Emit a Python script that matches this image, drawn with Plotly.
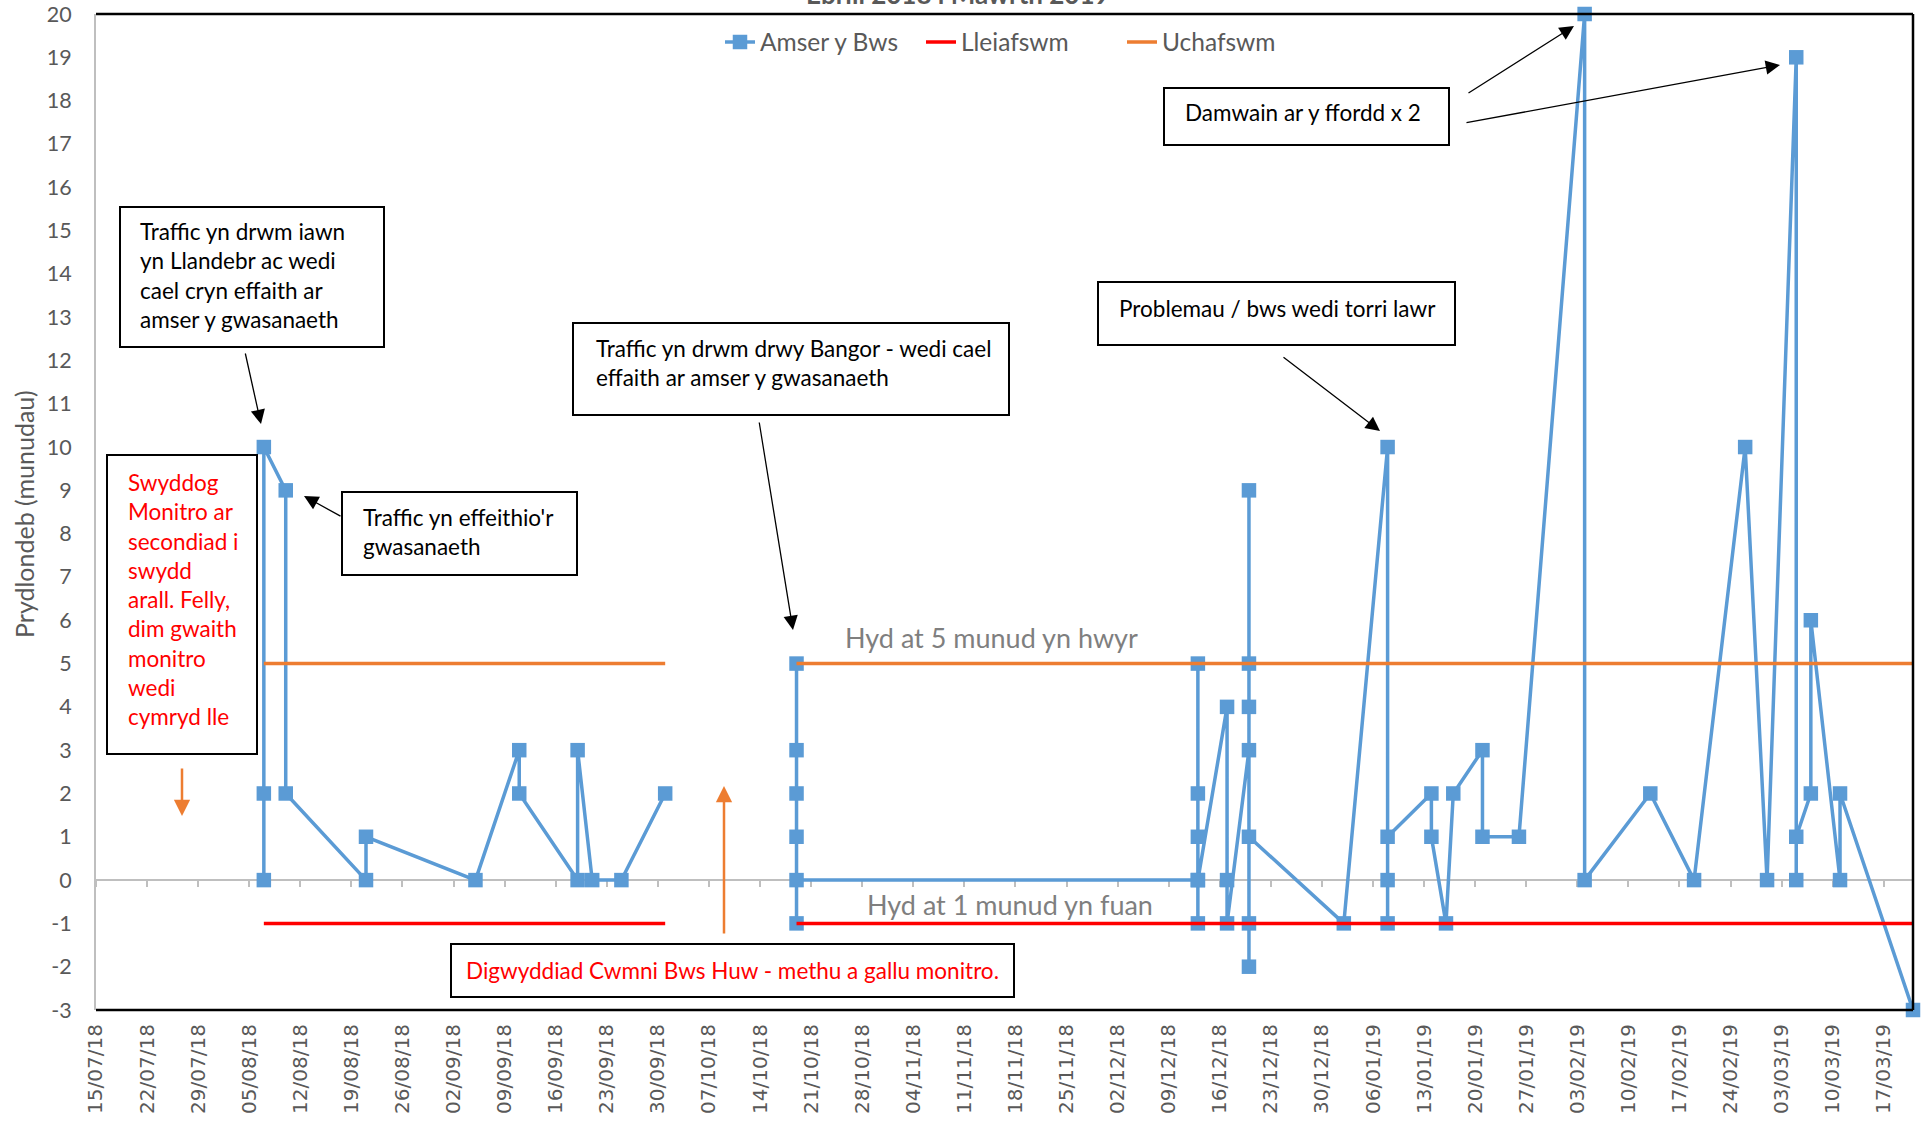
import plotly.graph_objects as go

# ---------------- data ----------------
dates = [
    "2018-08-07", "2018-08-07", "2018-08-07",
    "2018-08-10", "2018-08-10",
    "2018-08-21", "2018-08-21",
    "2018-09-05",
    "2018-09-11", "2018-09-11",
    "2018-09-19", "2018-09-19",
    "2018-09-21",
    "2018-09-25",
    "2018-10-01",
    "2018-10-10",
    "2018-10-19", "2018-10-19", "2018-10-19", "2018-10-19", "2018-10-19", "2018-10-19",
    "2018-12-13", "2018-12-13", "2018-12-13", "2018-12-13", "2018-12-13", "2018-12-13",
    "2018-12-17", "2018-12-17", "2018-12-17",
    "2018-12-20", "2018-12-20", "2018-12-20", "2018-12-20", "2018-12-20", "2018-12-20", "2018-12-20",
    "2019-01-02",
    "2019-01-08", "2019-01-08", "2019-01-08", "2019-01-08",
    "2019-01-14", "2019-01-14",
    "2019-01-16",
    "2019-01-17",
    "2019-01-21", "2019-01-21",
    "2019-01-26",
    "2019-02-04", "2019-02-04",
    "2019-02-13",
    "2019-02-19",
    "2019-02-26",
    "2019-03-01",
    "2019-03-05", "2019-03-05", "2019-03-05",
    "2019-03-07", "2019-03-07",
    "2019-03-11", "2019-03-11",
    "2019-03-21",
]
amser_y_bws = [
    0, 2, 10,
    9, 2,
    0, 1,
    0,
    3, 2,
    0, 3,
    0,
    0,
    2,
    None,
    5, 3, 2, 1, -1, 0,
    0, 5, 2, 1, -1, 0,
    4, 0, -1,
    3, 9, 5, 4, -1, -2, 1,
    -1,
    10, -1, 0, 1,
    2, 1,
    -1,
    2,
    3, 1,
    1,
    20, 0,
    2,
    0,
    10,
    0,
    19, 0, 1,
    2, 6,
    0, 2,
    -3,
]
limit_dates = ["2018-08-07", "2018-10-01", "2018-10-10", "2018-10-19", "2019-03-21"]
lleiafswm = [-1, -1, None, -1, -1]
uchafswm = [5, 5, None, 5, 5]

x_range = ["2018-07-15", "2019-03-21"]
y_range = [-3, 20]
tick_start = "2018-07-15"
y_tick_vals = [-3, -2, -1, 0, 1, 2, 3, 4, 5, 6, 7, 8, 9, 10, 11, 12, 13, 14, 15, 16, 17, 18, 19, 20]
y_tick_labels = ["-3", "-2", "-1", "0", "1", "2", "3", "4", "5", "6", "7", "8", "9", "10",
                 "11", "12", "13", "14", "15", "16", "17", "18", "19", "20"]

# ---------------- geometry helpers ----------------
FW, FH = 1925, 1122
L, T, R, B = 96, 14, 12, 112
PW, PH = FW - L - R, FH - T - B


def px(x):
    return (x - L) / PW


def py(y):
    return 1 - (y - T) / PH


BLUE = "#5B9BD5"
RED = "#FF0000"
ORANGE = "#ED7D31"
GREY_TXT = "#595959"
AX_GREY = "#BFBFBF"
TXT_FONT = "Lato"

fig = go.Figure()
fig.add_trace(go.Scatter(
    x=dates, y=amser_y_bws, mode="lines+markers", name="Amser y Bws",
    line=dict(color=BLUE, width=3.5),
    marker=dict(symbol="square", size=14.5, color=BLUE),
    connectgaps=False, cliponaxis=False))
fig.add_trace(go.Scatter(
    x=limit_dates, y=lleiafswm, mode="lines", name="Lleiafswm",
    line=dict(color=RED, width=3.5), connectgaps=False))
fig.add_trace(go.Scatter(
    x=limit_dates, y=uchafswm, mode="lines", name="Uchafswm",
    line=dict(color=ORANGE, width=3.5), connectgaps=False))

shapes = []
# plot-area border (top, right, bottom)
for (x0, y0, x1, y1) in [(0, 1, 1, 1), (1, 0, 1, 1), (0, 0, 1, 0)]:
    shapes.append(dict(type="line", xref="paper", yref="paper", x0=x0, y0=y0, x1=x1, y1=y1,
                       line=dict(color="black", width=2.5), layer="above"))

# text boxes (pixel rects)
boxes = [
    (120, 207, 384, 347),
    (342, 492, 577, 575),
    (107, 455, 257, 754),
    (573, 323, 1009, 415),
    (451, 944, 1014, 997),
    (1098, 282, 1455, 345),
    (1164, 88, 1449, 145),
]
for (x0, y0, x1, y1) in boxes:
    shapes.append(dict(type="rect", xref="paper", yref="paper",
                       x0=px(x0), x1=px(x1), y0=py(y1), y1=py(y0),
                       line=dict(color="black", width=2), fillcolor="white", layer="above"))

annotations = []


def text(x, y, s, color="black", size=22.5, xanchor="left", family=TXT_FONT, bold=False, **kw):
    annotations.append(dict(
        xref="paper", yref="paper", x=px(x), y=py(y), text=s, showarrow=False,
        xanchor=xanchor, yanchor="middle", align="left",
        font=dict(family=family, size=size, color=color, weight="bold" if bold else "normal"), **kw))


text(138, 276, "Traffic yn drwm iawn<br>yn Llandebr ac wedi<br>cael cryn effaith ar<br>amser y gwasanaeth")
text(361, 532, "Traffic yn effeithio'r<br>gwasanaeth")
text(126, 599, "Swyddog<br>Monitro ar<br>secondiad i<br>swydd<br>arall. Felly,<br>dim gwaith<br>monitro<br>wedi<br>cymryd lle", color=RED)
text(594, 363, "Traffic yn drwm drwy Bangor - wedi cael<br>effaith ar amser y gwasanaeth")
text(732, 970, "Digwyddiad Cwmni Bws Huw - methu a gallu monitro.", color=RED, xanchor="center")
text(1117, 308, "Problemau / bws wedi torri lawr")
text(1183, 112, "Damwain ar y ffordd x 2")
text(991, 637, "Hyd at 5 munud yn hwyr", color="#7F7F7F", size=27, xanchor="center")
text(1010, 904, "Hyd at 1 munud yn fuan", color="#7F7F7F", size=27, xanchor="center")

# y-axis title
annotations.append(dict(xref="paper", yref="paper", x=px(24), y=py(514), text="Prydlondeb (munudau)",
                        showarrow=False, textangle=-90, xanchor="center", yanchor="middle",
                        font=dict(family=TXT_FONT, size=25, color=GREY_TXT)))
# chart title (cut at top edge)
annotations.append(dict(xref="paper", yref="paper", x=px(958), y=py(12), text="Ebrill 2018 i Mawrth 2019",
                        showarrow=False, xanchor="center", yanchor="bottom",
                        font=dict(family=TXT_FONT, size=26, color=GREY_TXT, weight="bold")))

# arrows: (tail_x, tail_y, head_x, head_y, color, width, size)
arrows = [
    (245, 352, 261, 424, "black", 1.3, 2.2),
    (342, 517, 304, 496, "black", 1.3, 2.2),
    (759, 421, 793, 630, "black", 1.3, 2.2),
    (1282, 356, 1380, 431, "black", 1.3, 2.2),
    (1467, 94, 1574, 26, "black", 1.3, 2.2),
    (1465, 123, 1780, 65, "black", 1.3, 2.2),
    (182, 767, 182, 816, ORANGE, 2.5, 1.3),
    (724, 935, 724, 786, ORANGE, 2.5, 1.3),
]
for (tx, ty, hx, hy, c, w, s) in arrows:
    annotations.append(dict(xref="paper", yref="paper", x=px(hx), y=py(hy), text="",
                            showarrow=True, ax=tx - hx, ay=ty - hy, arrowhead=2,
                            arrowsize=s, arrowwidth=w, arrowcolor=c, standoff=0))

fig.update_layout(
    width=FW, height=FH,
    margin=dict(l=L, r=R, t=T, b=B, autoexpand=False),
    paper_bgcolor="white", plot_bgcolor="white",
    showlegend=True,
    legend=dict(orientation="h", x=px(720), y=py(42), xanchor="left", yanchor="middle",
                font=dict(family=TXT_FONT, size=24.5, color=GREY_TXT),
                bgcolor="rgba(0,0,0,0)", entrywidth=156, entrywidthmode="pixels"),
    xaxis=dict(type="date", range=x_range, tick0=tick_start, dtick=7 * 86400000,
               tickformat="%d/%m/%y", tickangle=-90, anchor="free", position=3 / 23,
               showline=True, linecolor=AX_GREY, linewidth=2,
               ticks="outside", ticklen=6, tickwidth=2, tickcolor=AX_GREY,
               ticklabelstandoff=129, showgrid=False, zeroline=False, layer="below traces",
               tickfont=dict(family="DejaVu Sans", size=20, color=GREY_TXT)),
    yaxis=dict(range=y_range, tickmode="array", tickvals=y_tick_vals, ticktext=y_tick_labels,
               showline=True, linecolor=AX_GREY, linewidth=2,
               ticks="", showgrid=False, zeroline=False, ticklabelstandoff=18,
               tickfont=dict(family=TXT_FONT, size=21.5, color=GREY_TXT)),
    shapes=shapes,
    annotations=annotations,
)

fig.write_html("out.html", config={"displayModeBar": False},
               post_script="document.body.style.margin='0px';")
